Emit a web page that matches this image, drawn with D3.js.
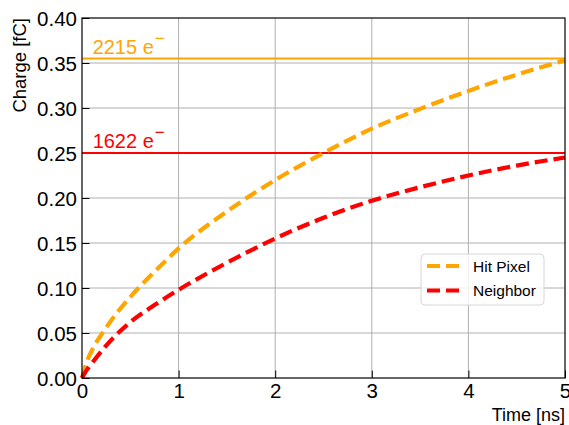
<!DOCTYPE html>
<html>
<head>
<meta charset="utf-8">
<script src="https://cdn.jsdelivr.net/npm/d3@7"></script>
<style>
  html, body { margin: 0; padding: 0; background: #fff; }
  svg { display: block; font-family: "Liberation Sans", Arial, sans-serif; }
</style>
</head>
<body>
<svg id="chart" width="569" height="425"></svg>
<script>
// ---- data ----
const timeNs       = [0, 0.05, 0.1, 0.25, 0.5, 0.75, 1, 1.5, 2, 2.5, 3, 3.5, 4, 4.5, 5];
const hitPixel     = [0, 0.018, 0.030, 0.056, 0.090, 0.118, 0.144, 0.185, 0.220, 0.250, 0.277, 0.299, 0.319, 0.337, 0.353];
const neighbor     = [0, 0.009, 0.016, 0.036, 0.062, 0.081, 0.098, 0.128, 0.155, 0.178, 0.197, 0.212, 0.225, 0.236, 0.245];
const seriesNames  = ["Hit Pixel", "Neighbor"];
const seriesColors = ["orange", "red"];
const refLevels    = [0.355, 0.25];
const refLabels    = ["2215 e", "1622 e"];
const xTicks       = [0, 1, 2, 3, 4, 5];
const yTicks       = [0, 0.05, 0.10, 0.15, 0.20, 0.25, 0.30, 0.35, 0.40];

// ---- layout ----
const m = { left: 82, right: 565, top: 18, bottom: 378 };
const svg = d3.select("#chart");

const x = d3.scaleLinear().domain([0, 5]).range([m.left, m.right]);
const y = d3.scaleLinear().domain([0, 0.40]).range([m.bottom, m.top]);

// grid
const grid = svg.append("g");
grid.selectAll("line.gx").data(xTicks.slice(1, -1)).join("line")
  .attr("x1", d => x(d)).attr("x2", d => x(d))
  .attr("y1", m.top).attr("y2", m.bottom)
  .attr("stroke", "#b0b0b0").attr("stroke-width", 1);
grid.selectAll("line.gy").data(yTicks.slice(1, -1)).join("line")
  .attr("y1", d => y(d)).attr("y2", d => y(d))
  .attr("x1", m.left).attr("x2", m.right)
  .attr("stroke", "#b0b0b0").attr("stroke-width", 1);

// axes (ticks inward)
const xAxis = d3.axisBottom(x).tickValues(xTicks).tickSizeInner(-7.5).tickSizeOuter(0).tickPadding(0).tickFormat(d3.format("d"));
const yAxis = d3.axisLeft(y).tickValues(yTicks).tickSizeInner(-7.5).tickSizeOuter(0).tickPadding(0).tickFormat(d3.format(".2f"));

const gx = svg.append("g").attr("transform", `translate(0,${m.bottom})`).call(xAxis);
gx.select(".domain").remove();
gx.selectAll(".tick line").attr("stroke", "#000").attr("stroke-width", 1);
gx.selectAll(".tick text").attr("fill", "#000").attr("font-size", 20.5)
  .attr("font-family", "Liberation Sans, Arial, sans-serif")
  .attr("y", 20).attr("dy", 0);

const gy = svg.append("g").attr("transform", `translate(${m.left},0)`).call(yAxis);
gy.select(".domain").remove();
gy.selectAll(".tick line").attr("stroke", "#000").attr("stroke-width", 1);
gy.selectAll(".tick text").attr("fill", "#000").attr("font-size", 20.5)
  .attr("font-family", "Liberation Sans, Arial, sans-serif")
  .attr("x", -5).attr("dy", "0.36em");

// reference lines
refLevels.forEach((lv, i) => {
  svg.append("line")
    .attr("x1", m.left).attr("x2", m.right)
    .attr("y1", y(lv)).attr("y2", y(lv))
    .attr("stroke", seriesColors[i]).attr("stroke-width", 2);
  const t = svg.append("text")
    .attr("x", x(0.11)).attr("y", y(lv) - 5)
    .attr("fill", seriesColors[i]).attr("font-size", 20);
  t.append("tspan").text(refLabels[i]);
  t.append("tspan").attr("dy", -10).attr("dx", 1).attr("font-size", 17).text("\u2212");
});

// curves
const series = [hitPixel, neighbor];
const line = d3.line().x((d, i) => x(timeNs[i])).y(d => y(d)).curve(d3.curveMonotoneX);
series.forEach((vals, i) => {
  svg.append("path").datum(vals)
    .attr("d", line)
    .attr("fill", "none")
    .attr("stroke", seriesColors[i])
    .attr("stroke-width", 4.2)
    .attr("stroke-dasharray", "13,6");
});

// spines
svg.append("rect")
  .attr("x", m.left).attr("y", m.top)
  .attr("width", m.right - m.left).attr("height", m.bottom - m.top)
  .attr("fill", "none").attr("stroke", "#000").attr("stroke-width", 1.2);

// legend
const lg = svg.append("g");
lg.append("rect")
  .attr("x", 421).attr("y", 254).attr("width", 123).attr("height", 51)
  .attr("rx", 4).attr("fill", "#fff").attr("fill-opacity", 0.8)
  .attr("stroke", "#d6d6d6").attr("stroke-width", 1);
seriesNames.forEach((name, i) => {
  const yy = 266 + i * 24.5;
  lg.append("line").attr("x1", 427).attr("x2", 460).attr("y1", yy).attr("y2", yy)
    .attr("stroke", seriesColors[i]).attr("stroke-width", 4.2).attr("stroke-dasharray", "13,6");
  lg.append("text").attr("x", 473).attr("y", yy).attr("dy", "0.36em")
    .attr("font-size", 15.5).attr("fill", "#000").text(name);
});

// axis labels
svg.append("text")
  .attr("transform", `translate(26,${m.top}) rotate(-90)`)
  .attr("text-anchor", "end").attr("font-size", 18.5).attr("fill", "#000")
  .text("Charge [fC]");
svg.append("text")
  .attr("x", m.right).attr("y", 421)
  .attr("text-anchor", "end").attr("font-size", 18).attr("fill", "#000")
  .text("Time [ns]");
</script>
</body>
</html>
